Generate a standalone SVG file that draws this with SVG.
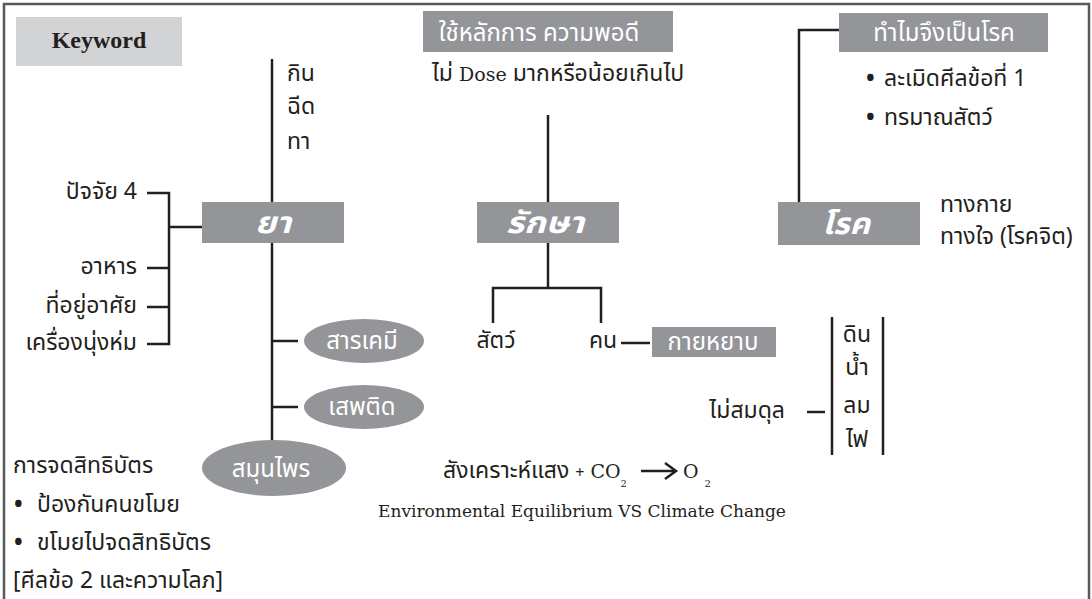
<svg xmlns="http://www.w3.org/2000/svg" width="1092" height="599" viewBox="0 0 1092 599">
<style>
  .t { font-family: "Noto Sans Thai", "Noto Sans Thai UI", "Noto Sans", "DejaVu Sans", sans-serif; font-size: 23px; fill: #231f20; }
  .w { font-family: "Noto Sans Thai", "Noto Sans Thai UI", "Noto Sans", "DejaVu Sans", sans-serif; font-size: 24px; fill: #ffffff; }
  .big { font-family: "Noto Sans Thai", "Noto Sans Thai UI", "Noto Sans", "DejaVu Sans", sans-serif; font-size: 30px; font-weight: bold; font-style: italic; fill: #ffffff; }
  .en { font-family: "DejaVu Serif", "Liberation Serif", serif; fill: #231f20; }
  .bul { font-weight: bold; }
  .box { fill: #939598; }
  .ln { fill: none; stroke: #231f20; stroke-width: 2.5; }
</style>
<rect x="0" y="0" width="1092" height="599" fill="#ffffff"/>
<rect x="4" y="4" width="1085" height="620" fill="none" stroke="#58595b" stroke-width="2.5"/>

<g id="keyword">
  <rect x="16" y="17" width="166" height="49" fill="#d1d3d4"/>
  <text x="99" y="48" text-anchor="middle" font-family="Liberation Serif, serif" font-weight="bold" font-size="24" fill="#231f20">Keyword</text>
</g>

<g id="connectors" class="ln">
  <path d="M272 59 V202"/>
  <path d="M272 243 V441"/>
  <path d="M272 341 H298"/>
  <path d="M272 407 H298"/>
  <path d="M147 193 H169 V344 H147"/>
  <path d="M147 268 H169"/>
  <path d="M147 307 H169"/>
  <path d="M169 227 H202"/>
  <path d="M548 115 V202"/>
  <path d="M548 243 V288"/>
  <path d="M493 323 V288 H601 V323"/>
  <path d="M621 343 H650"/>
  <path d="M839 30 H799 V202"/>
  <path d="M807 412 H825"/>
  <path d="M832 317 V455"/>
  <path d="M883 317 V455"/>
</g>

<g id="ya-methods">
  <text class="t" x="287" y="81" font-size="22">กิน</text>
  <text class="t" x="287" y="114" font-size="22">ฉีด</text>
  <text class="t" x="287" y="149" font-size="22">ทา</text>
</g>

<g id="node-ya">
  <rect class="box" x="202" y="202" width="142" height="41"/>
  <text class="big" x="255" y="233" textLength="36" lengthAdjust="spacingAndGlyphs">ยา</text>
</g>

<g id="factors">
  <text class="t" x="137" y="199" text-anchor="end">ปัจจัย 4</text>
  <text class="t" x="137" y="274" text-anchor="end">อาหาร</text>
  <text class="t" x="137" y="313" text-anchor="end">ที่อยู่อาศัย</text>
  <text class="t" x="137" y="350" text-anchor="end">เครื่องนุ่งห่ม</text>
</g>

<g id="node-chem">
  <ellipse class="box" cx="364" cy="341" rx="60" ry="22"/>
  <text class="w" x="362" y="349" text-anchor="middle">สารเคมี</text>
</g>
<g id="node-drug">
  <ellipse class="box" cx="364" cy="407" rx="60" ry="22"/>
  <text class="w" x="362" y="415" text-anchor="middle">เสพติด</text>
</g>
<g id="node-herb">
  <ellipse class="box" cx="274" cy="468" rx="72" ry="28"/>
  <text class="w" x="271" y="477" text-anchor="middle">สมุนไพร</text>
</g>

<g id="patent">
  <text class="t" x="13" y="473">การจดสิทธิบัตร</text>
  <text class="t" x="14" y="512"><tspan class="bul">•</tspan><tspan x="37">ป้องกันคนขโมย</tspan></text>
  <text class="t" x="14" y="550"><tspan class="bul">•</tspan><tspan x="37">ขโมยไปจดสิทธิบัตร</tspan></text>
  <text class="t" x="13" y="588">[ศีลข้อ 2 และความโลภ]</text>
</g>

<g id="node-principle">
  <rect class="box" x="423" y="11" width="250" height="41"/>
  <text class="w" x="539" y="41" text-anchor="middle" font-size="29">ใช้หลักการ ความพอดี</text>
</g>
<g id="dose">
  <text class="t" x="558" y="81" text-anchor="middle">ไม่ <tspan class="en" font-size="19">Dose</tspan> มากหรือน้อยเกินไป</text>
</g>

<g id="node-treat">
  <rect class="box" x="477" y="202" width="142" height="41"/>
  <text class="big" x="506" y="233" textLength="78" lengthAdjust="spacingAndGlyphs">รักษา</text>
</g>
<g id="node-animal">
  <text class="t" x="496" y="348" text-anchor="middle">สัตว์</text>
</g>
<g id="node-person">
  <text class="t" x="603" y="348" text-anchor="middle">คน</text>
</g>
<g id="node-body">
  <rect class="box" x="652" y="327" width="124" height="30"/>
  <text class="w" x="713" y="350" text-anchor="middle">กายหยาบ</text>
</g>

<g id="node-why">
  <rect class="box" x="839" y="13" width="209" height="39"/>
  <text class="w" x="944" y="41" text-anchor="middle">ทำไมจึงเป็นโรค</text>
</g>
<g id="why-list">
  <text class="t" x="866" y="86"><tspan class="bul">•</tspan><tspan x="884">ละเมิดศีลข้อที่ 1</tspan></text>
  <text class="t" x="866" y="125"><tspan class="bul">•</tspan><tspan x="884">ทรมาณสัตว์</tspan></text>
</g>

<g id="node-disease">
  <rect class="box" x="778" y="202" width="142" height="43"/>
  <text class="big" x="822" y="234" textLength="48" lengthAdjust="spacingAndGlyphs">โรค</text>
</g>
<g id="disease-types">
  <text class="t" x="940" y="212">ทางกาย</text>
  <text class="t" x="940" y="244">ทางใจ (โรคจิต)</text>
</g>

<g id="imbalance">
  <text class="t" x="785" y="418" text-anchor="end">ไม่สมดุล</text>
  <text class="t" x="857" y="342" text-anchor="middle">ดิน</text>
  <text class="t" x="857" y="375" text-anchor="middle">น้ำ</text>
  <text class="t" x="857" y="413" text-anchor="middle">ลม</text>
  <text class="t" x="857" y="447" text-anchor="middle">ไฟ</text>
</g>

<g id="photosynthesis">
  <text class="t" x="443" y="478">สังเคราะห์แสง <tspan font-size="16">+</tspan> <tspan class="en" font-size="19">CO</tspan><tspan class="en" font-size="10" dy="9">2</tspan></text>
  <path d="M641 471 H675 M665 463 L676 471 L665 479" fill="none" stroke="#231f20" stroke-width="2.5"/>
  <text class="en" x="683" y="478" font-size="19">O<tspan font-size="10" dx="6" dy="9">2</tspan></text>
  <text class="en" x="582" y="517" font-size="17" text-anchor="middle">Environmental Equilibrium VS Climate Change</text>
</g>
</svg>
